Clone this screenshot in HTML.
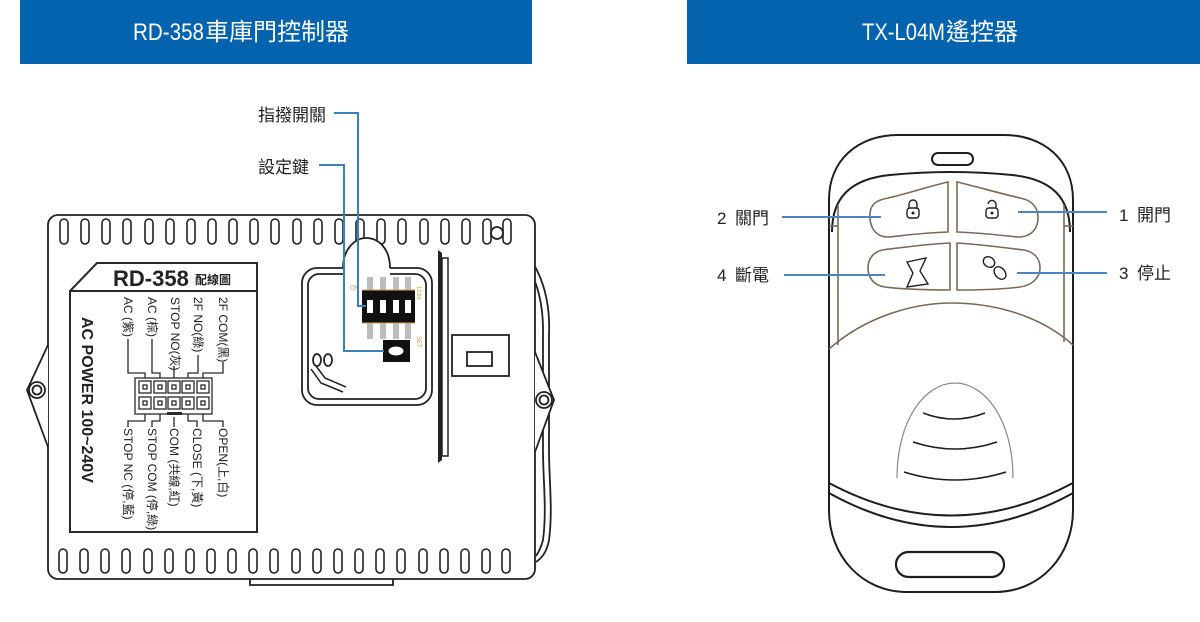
<!DOCTYPE html>
<html><head><meta charset="utf-8"><style>
html,body{margin:0;padding:0;background:#fff;}
svg{display:block;}
text{font-family:"Liberation Sans","Noto Sans CJK TC",sans-serif;}
</style></head><body>
<svg width="1200" height="622" viewBox="0 0 1200 622" xmlns="http://www.w3.org/2000/svg">
<rect width="1200" height="622" fill="#fff"/>
<!-- headers -->
<rect x="20" y="0" width="512" height="64" fill="#0363ae"/>
<rect x="687" y="0" width="513" height="64" fill="#0363ae"/>
<text y="40" fill="#fff" font-size="24"><tspan x="133" textLength="71" lengthAdjust="spacingAndGlyphs">RD-358</tspan><tspan x="205" style="font-family:'Noto Sans CJK TC',sans-serif">車庫門控制器</tspan></text>
<text y="40" fill="#fff" font-size="24"><tspan x="862" textLength="83" lengthAdjust="spacingAndGlyphs">TX-L04M</tspan><tspan x="946" style="font-family:'Noto Sans CJK TC',sans-serif">遙控器</tspan></text>

<!-- ===== LEFT DEVICE ===== -->
<g fill="none" stroke="#222" stroke-width="1.8">
  <path d="M492 229 C535 245 551 290 549 335 L549 450 C549 480 553 510 549 540 C547 552 542 558 536 562"/>
  <path d="M495 236 C530 252 544 292 543 335 L543 450 C543 480 547 510 543 540 C541 548 538 553 536 556"/>
  <rect x="48" y="215" width="487" height="364" rx="10" fill="#fff"/>
  <path d="M250 579 L250 585 L393 585 L393 579"/>
  <path d="M48 345 L27 390 L48 447" fill="#fff"/>
  <circle cx="37" cy="390" r="8"/>
  <circle cx="37" cy="390" r="4.5"/>
  <path d="M535 352 L554 400 L535 452" fill="#fff"/>
  <circle cx="544" cy="400" r="8"/>
  <circle cx="544" cy="400" r="4.5"/>
  <circle cx="497" cy="233" r="6"/>
</g>
<!-- slots -->
<g fill="none" stroke="#222" stroke-width="1.6">
  <rect x="60" y="219" width="8" height="25" rx="4"/><rect x="81" y="219" width="8" height="25" rx="4"/><rect x="102" y="219" width="8" height="25" rx="4"/><rect x="123" y="219" width="8" height="25" rx="4"/><rect x="145" y="219" width="8" height="25" rx="4"/><rect x="166" y="219" width="8" height="25" rx="4"/><rect x="187" y="219" width="8" height="25" rx="4"/><rect x="208" y="219" width="8" height="25" rx="4"/><rect x="229" y="219" width="8" height="25" rx="4"/><rect x="250" y="219" width="8" height="25" rx="4"/><rect x="271" y="219" width="8" height="25" rx="4"/><rect x="293" y="219" width="8" height="25" rx="4"/><rect x="314" y="219" width="8" height="25" rx="4"/><rect x="335" y="219" width="8" height="25" rx="4"/><rect x="356" y="219" width="8" height="25" rx="4"/><rect x="377" y="219" width="8" height="25" rx="4"/><rect x="398" y="219" width="8" height="25" rx="4"/><rect x="420" y="219" width="8" height="25" rx="4"/><rect x="441" y="219" width="8" height="25" rx="4"/><rect x="462" y="219" width="8" height="25" rx="4"/><rect x="483" y="219" width="8" height="25" rx="4"/><rect x="503" y="219" width="8" height="25" rx="4"/>
  <rect x="59" y="549" width="8" height="24" rx="4"/><rect x="80" y="549" width="8" height="24" rx="4"/><rect x="101" y="549" width="8" height="24" rx="4"/><rect x="122" y="549" width="8" height="24" rx="4"/><rect x="144" y="549" width="8" height="24" rx="4"/><rect x="165" y="549" width="8" height="24" rx="4"/><rect x="186" y="549" width="8" height="24" rx="4"/><rect x="207" y="549" width="8" height="24" rx="4"/><rect x="228" y="549" width="8" height="24" rx="4"/><rect x="249" y="549" width="8" height="24" rx="4"/><rect x="270" y="549" width="8" height="24" rx="4"/><rect x="292" y="549" width="8" height="24" rx="4"/><rect x="313" y="549" width="8" height="24" rx="4"/><rect x="334" y="549" width="8" height="24" rx="4"/><rect x="355" y="549" width="8" height="24" rx="4"/><rect x="376" y="549" width="8" height="24" rx="4"/><rect x="397" y="549" width="8" height="24" rx="4"/><rect x="419" y="549" width="8" height="24" rx="4"/><rect x="440" y="549" width="8" height="24" rx="4"/><rect x="461" y="549" width="8" height="24" rx="4"/><rect x="482" y="549" width="8" height="24" rx="4"/><rect x="502" y="549" width="8" height="24" rx="4"/>
</g>

<!-- PCB window -->
<g fill="none" stroke="#222" stroke-width="1.8">
  <path d="M343 268 C343 248 356 238 366 238 C378 238 390 248 390 268" fill="#fff"/>
  <path d="M317 268 L343 268 M390 268 L417 268 A15 15 0 0 1 432 283 L432 390 A15 15 0 0 1 417 405 L317 405 A15 15 0 0 1 302 390 L302 283 A15 15 0 0 1 317 268"/>
  <path d="M319 274 L343 274 M390 274 L415 274 A11 11 0 0 1 426 285 L426 388 A11 11 0 0 1 415 399 L319 399 A11 11 0 0 1 308 388 L308 285 A11 11 0 0 1 319 274"/>
  <ellipse cx="317" cy="360" rx="4" ry="6"/>
  <ellipse cx="328" cy="360" rx="4" ry="6"/>
  <path d="M311 369 L321 383 L343 392" stroke-width="1.5"/>
  <path d="M316 366 L325 378 L346 387" stroke-width="1.5"/>
</g>
<g fill="#bdbdbd">
  <rect x="367" y="277" width="6" height="62"/><rect x="380" y="277" width="6" height="62"/><rect x="393" y="277" width="6" height="62"/><rect x="405" y="277" width="6" height="62"/>
</g>
<rect x="362" y="290" width="53" height="33" fill="#111"/>
<line x1="362" y1="290" x2="415" y2="290" stroke="#d6a24a" stroke-width="1"/>
<line x1="362" y1="323" x2="415" y2="323" stroke="#d6a24a" stroke-width="1"/>
<g fill="#fff"><rect x="367" y="300" width="6" height="13"/><rect x="380" y="300" width="6" height="13"/><rect x="393" y="300" width="6" height="13"/><rect x="405" y="300" width="6" height="13"/></g>
<text x="350" y="290" font-size="6" fill="#c89a5a">ON</text>
<text transform="translate(417,286) rotate(90)" font-size="6" fill="#c89a5a">1234</text>
<text transform="translate(417,336) rotate(90)" font-size="6" fill="#c89a5a">SET</text>
<rect x="383" y="340" width="27" height="22" fill="#111"/>
<ellipse cx="396" cy="351" rx="8" ry="5" fill="#fff" stroke="#111" stroke-width="1"/>

<!-- divider plate & side box -->
<path d="M438 250 L442 253 L442 460 L438 463 Z" fill="#222"/>
<rect x="442" y="258" width="6" height="198" fill="none" stroke="#222" stroke-width="1.5"/>
<rect x="452" y="335" width="57" height="41" fill="#fff" stroke="#222" stroke-width="1.8"/>
<rect x="467" y="352" width="25" height="14" fill="none" stroke="#222" stroke-width="1.8"/>

<!-- blue leaders left -->
<g fill="none" stroke="#3d7ebf" stroke-width="2">
  <path d="M334 113 L358 113 L358 306 L366 306"/>
  <path d="M319 165 L344 165 L344 351 L384 351"/>
</g>
<text x="258" y="121" font-size="17" fill="#222">指撥開關</text>
<text x="258" y="173" font-size="17" fill="#222">設定鍵</text>

<!-- label box -->
<g fill="none" stroke="#2a2a2a" stroke-width="2">
  <path d="M70 291 L97 263 L257 263 L257 532 L70 532 Z" fill="#fff"/>
  <line x1="70" y1="291" x2="257" y2="291"/>
</g>
<text x="113" y="286" font-size="22" font-weight="bold" fill="#222">RD-358</text>
<text x="195" y="284" font-size="12" font-weight="bold" fill="#222">配線圖</text>
<text transform="translate(82,317) rotate(90)" font-size="16" font-weight="bold" fill="#222">AC POWER 100~240V</text>
<g font-size="12" fill="#222">
  <text transform="translate(124,297) rotate(90)">AC (紫)</text>
  <text transform="translate(148,297) rotate(90)">AC (棕)</text>
  <text transform="translate(171,297) rotate(90)">STOP NO(灰)</text>
  <text transform="translate(194,297) rotate(90)">2F NO(綠)</text>
  <text transform="translate(219,297) rotate(90)">2F COM(黑)</text>
  <text transform="translate(124,428) rotate(90)">STOP NC (停,藍)</text>
  <text transform="translate(148,428) rotate(90)">STOP COM (停,綠)</text>
  <text transform="translate(170,428) rotate(90)">COM (共線,紅)</text>
  <text transform="translate(193,428) rotate(90)">CLOSE (下,黃)</text>
  <text transform="translate(219,428) rotate(90)">OPEN(上,白)</text>
</g>
<g fill="none" stroke="#2a2a2a" stroke-width="1.3">
  <path d="M128 339 V373 H145 V378"/>
  <path d="M152 339 V373 H160 V378"/>
  <path d="M174 366 V378"/>
  <path d="M198 355 V373 H188 V378"/>
  <path d="M223 362 V373 H203 V378"/>
  <path d="M145 414 V421 H128 V427"/>
  <path d="M160 414 V421 H152 V427"/>
  <path d="M174 417 V427"/>
  <path d="M188 414 V421 H197 V427"/>
  <path d="M203 414 V421 H223 V427"/>
  <rect x="135" y="378" width="77" height="36" fill="#fff"/>
  <rect x="139" y="381" width="12" height="12"/><rect x="154" y="381" width="12" height="12"/><rect x="168" y="381" width="12" height="12"/><rect x="182" y="381" width="12" height="12"/><rect x="197" y="381" width="12" height="12"/>
  <rect x="139" y="397" width="12" height="12"/><rect x="154" y="397" width="12" height="12"/><rect x="168" y="397" width="12" height="12"/><rect x="182" y="397" width="12" height="12"/><rect x="197" y="397" width="12" height="12"/>
  <rect x="143" y="385" width="4" height="4"/><rect x="158" y="385" width="4" height="4"/><rect x="172" y="385" width="4" height="4"/><rect x="186" y="385" width="4" height="4"/><rect x="201" y="385" width="4" height="4"/>
  <rect x="143" y="401" width="4" height="4"/><rect x="158" y="401" width="4" height="4"/><rect x="172" y="401" width="4" height="4"/><rect x="186" y="401" width="4" height="4"/><rect x="201" y="401" width="4" height="4"/>
</g>
<rect x="167" y="412" width="15" height="3" fill="#2a2a2a"/>

<!-- ===== REMOTE ===== -->
<g fill="none" stroke="#1e1e1e" stroke-width="2">
  <path d="M829 200 C829 160 858 135 898 135 L1004 135 C1044 135 1073 160 1073 200 L1073 510 C1073 556 1040 592 995 592 L907 592 C862 592 829 556 829 510 Z" fill="#fff"/>
  <path d="M832 232 C832 198 850 179 890 175 Q951 169 1012 175 C1052 179 1070 198 1070 232"/>
  <rect x="932" y="153" width="41" height="12" rx="6"/>
  <path d="M829 483 Q951 548 1073 483"/>
  <path d="M829 493 Q951 561 1073 493"/>
  <rect x="896" y="552" width="108" height="25" rx="12.5" stroke-width="2.2"/>
  <path d="M923 413 Q954 425 985 413" stroke-width="1.6"/>
  <path d="M913 442 Q955 456 997 442" stroke-width="1.6"/>
  <path d="M904 472 Q955 488 1006 472" stroke-width="1.6"/>
</g>
<path d="M897 478 C897 420 925 383 955 383 C985 383 1013 420 1013 478" fill="none" stroke="#8a8a8a" stroke-width="1.2"/>
<g fill="none" stroke="#7a6a55" stroke-width="1.6">
  <line x1="838" y1="205" x2="838" y2="345"/>
  <line x1="1064" y1="205" x2="1064" y2="342"/>
  <line x1="829" y1="226" x2="838" y2="226"/>
  <line x1="1064" y1="226" x2="1073" y2="226"/>
  <path d="M829 349 C870 313 920 303 951 303 C985 303 1035 311 1073 345"/>
  <path d="M948 182 L948 232 C920 233 900 236 888 237 C874 237 869 225 870 213 C871 203 878 200 888 198 C910 193 930 186 948 182 Z"/>
  <path d="M957 182 L957 232 C985 233 1005 236 1018 237 C1032 237 1038 228 1038 218 C1038 205 1030 200 1020 198 C998 193 975 186 957 182 Z"/>
  <path d="M950 243 L950 290 C925 290 900 289 885 287 C872 285 868 276 868 268 C868 258 874 252 882 250 C905 247 930 244 950 243 Z"/>
  <path d="M957 243 L957 290 C985 290 1005 289 1020 287 C1034 285 1040 276 1040 268 C1040 258 1034 252 1024 250 C1000 247 975 244 957 243 Z"/>
</g>
<!-- icons -->
<g fill="none" stroke="#222" stroke-width="1.4">
  <path d="M909 208 L909 204 A4 4 0 0 1 917 204 L917 208"/>
  <rect x="907" y="208" width="12" height="10" rx="3"/>
  <path d="M996 205 A4 4 0 0 0 988 204"/>
  <path d="M996 205 L996 208"/>
  <rect x="986" y="208" width="12" height="10" rx="3"/>
  <path d="M907 262 L926 258 L920 271 L928 284 L907 287 L913 273 Z"/>
  <ellipse cx="989" cy="262" rx="6" ry="5" transform="rotate(35 989 262)"/>
  <ellipse cx="1000" cy="273" rx="5" ry="7" transform="rotate(-40 1000 273)"/>
</g>
<circle cx="913" cy="213" r="1.5" fill="#222"/>
<circle cx="992" cy="213" r="1.5" fill="#222"/>
<!-- remote leaders -->
<g stroke="#4a86c0" stroke-width="2">
  <line x1="782" y1="217" x2="881" y2="217"/>
  <line x1="784" y1="275" x2="885" y2="275"/>
  <line x1="1018" y1="212" x2="1107" y2="212"/>
  <line x1="1017" y1="273" x2="1107" y2="273"/>
</g>
<g font-size="17" fill="#222">
  <text x="717" y="224">2</text><text x="735" y="224">關門</text>
  <text x="717" y="281">4</text><text x="735" y="281">斷電</text>
  <text x="1119" y="221">1</text><text x="1137" y="221">開門</text>
  <text x="1119" y="279">3</text><text x="1137" y="279">停止</text>
</g>
</svg>
</body></html>
